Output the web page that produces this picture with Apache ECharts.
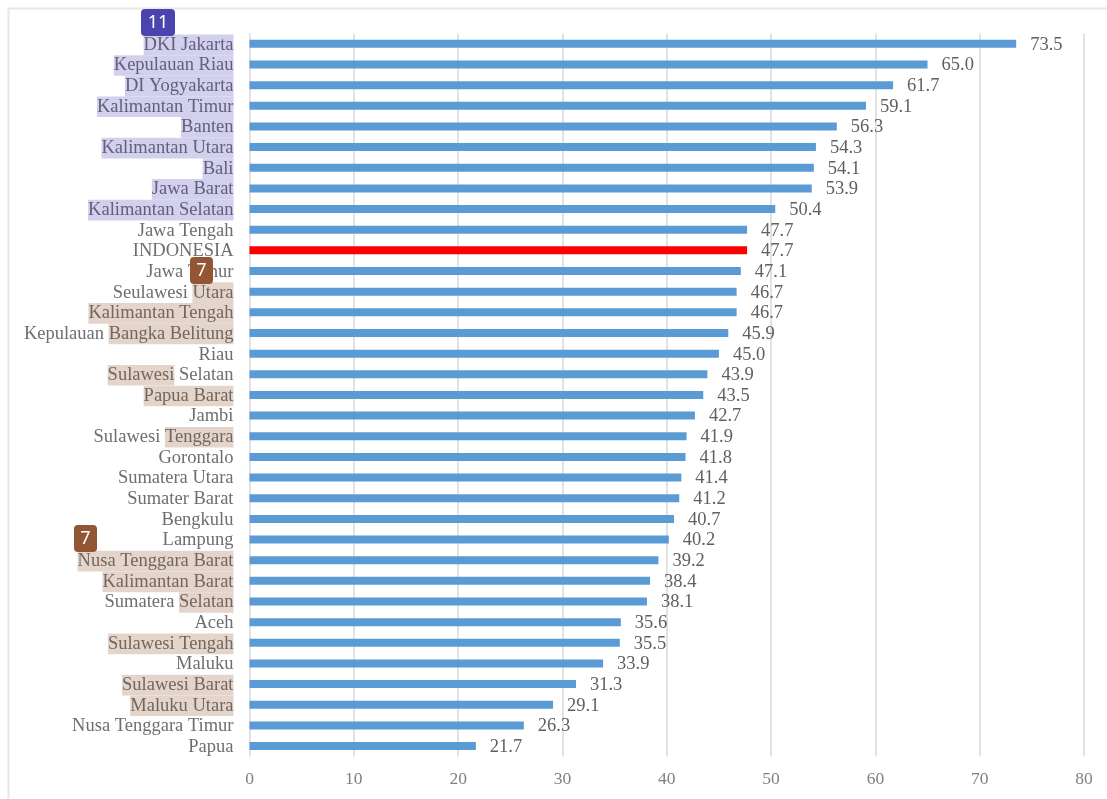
<!DOCTYPE html>
<html><head><meta charset="utf-8">
<style>html,body{margin:0;padding:0;background:#fff}#c{width:1107px;height:799px;filter:blur(0.4px)}</style>
<script src="https://cdn.jsdelivr.net/npm/echarts@6/dist/echarts.min.js"></script>
</head><body><div id="c"></div>
<script>
const categories = ["DKI Jakarta","Kepulauan Riau","DI Yogyakarta","Kalimantan Timur","Banten","Kalimantan Utara","Bali","Jawa Barat","Kalimantan Selatan","Jawa Tengah","INDONESIA","Jawa Timur","Seulawesi Utara","Kalimantan Tengah","Kepulauan Bangka Belitung","Riau","Sulawesi Selatan","Papua Barat","Jambi","Sulawesi Tenggara","Gorontalo","Sumatera Utara","Sumater Barat","Bengkulu","Lampung","Nusa Tenggara Barat","Kalimantan Barat","Sumatera Selatan","Aceh","Sulawesi Tengah","Maluku","Sulawesi Barat","Maluku Utara","Nusa Tenggara Timur","Papua"];
const values = [73.5,65.0,61.7,59.1,56.3,54.3,54.1,53.9,50.4,47.7,47.7,47.1,46.7,46.7,45.9,45.0,43.9,43.5,42.7,41.9,41.8,41.4,41.2,40.7,40.2,39.2,38.4,38.1,35.6,35.5,33.9,31.3,29.1,26.3,21.7];
const blueMarked = ["DKI Jakarta","Kepulauan Riau","DI Yogyakarta","Kalimantan Timur","Banten","Kalimantan Utara","Bali","Jawa Barat","Kalimantan Selatan"];
const brownMarked = {"Seulawesi Utara":"Utara","Kalimantan Tengah":"Kalimantan Tengah","Kepulauan Bangka Belitung":"Bangka Belitung","Sulawesi Selatan":"Sulawesi","Papua Barat":"Papua Barat","Sulawesi Tenggara":"Tenggara","Nusa Tenggara Barat":"Nusa Tenggara Barat","Kalimantan Barat":"Kalimantan Barat","Sumatera Selatan":"Selatan","Sulawesi Tengah":"Sulawesi Tengah","Sulawesi Barat":"Sulawesi Barat","Maluku Utara":"Maluku Utara"};
const xTicks = {min:0,max:80,interval:10};
const highlightCategory = "INDONESIA";

const FONT = '"Liberation Serif","Times New Roman",serif';
const LABEL = 18.5, ROW = 20.65;
function span(style, s){ return s ? '{'+style+'|'+s+'}' : ''; }
function catLabel(name){
  if (blueMarked.includes(name)) return span('b', name);
  const part = brownMarked[name];
  if (part){
    const i = name.indexOf(part);
    return span('p', name.slice(0,i)) + span('t', part) + span('p', name.slice(i+part.length));
  }
  return span('p', name);
}
const base = {fontFamily:FONT,fontSize:LABEL,height:ROW,lineHeight:ROW,verticalAlign:'middle'};
const badge = (x,y,w,h,fill,txt)=>({type:'group',x,y,z:100,children:[
  {type:'rect',shape:{x:0,y:0,width:w,height:h,r:4},style:{fill},z:100},
  {type:'text',style:{x:w/2,y:h/2+0.5,text:txt,fill:'#fff',font:'18px "Noto Sans","Open Sans",sans-serif',align:'center',verticalAlign:'middle'},z:101}
]});
const chart = echarts.init(document.getElementById('c'),null,{renderer:'canvas'});
chart.setOption({
  animation:false,
  backgroundColor:'#fff',
  grid:{left:249.5,right:23,top:33.5,bottom:42.6,containLabel:false},
  xAxis:{type:'value',min:xTicks.min,max:xTicks.max,interval:xTicks.interval,
    axisLine:{show:false},axisTick:{show:false},
    splitLine:{show:true,lineStyle:{color:'#e2e2e2',width:2}},
    axisLabel:{color:'#808080',fontFamily:FONT,fontSize:17.5,margin:14}},
  yAxis:{type:'category',inverse:true,data:categories,
    axisLine:{show:false},axisTick:{show:false},
    axisLabel:{interval:0,margin:16,align:'right',formatter:catLabel,padding:[2,0,0,0],
      rich:{
        p:{...base,color:'#6e6e6e'},
        b:{...base,color:'#625f7c',backgroundColor:'#d2d0ec'},
        t:{...base,color:'#74665c',backgroundColor:'#e3d5cc'}
      }}},
  series:[{type:'bar',barWidth:8,
    data:categories.map((c,i)=>({value:values[i],itemStyle:{color:c===highlightCategory?'#ff0000':'#5b9bd5'}})),
    label:{show:true,position:'right',distance:14,offset:[0,1],color:'#606060',fontFamily:FONT,fontSize:18.5,
      formatter:p=>p.value.toFixed(1)}}],
  graphic:[
    {type:'line',shape:{x1:8,y1:8.5,x2:1107,y2:8.5},style:{stroke:'#e8e8e8',lineWidth:2},z:1},
    {type:'line',shape:{x1:8.5,y1:8,x2:8.5,y2:799},style:{stroke:'#e8e8e8',lineWidth:2},z:1},
    badge(141,9,34,27,'#4a45ae','11'),
    badge(190,257,23,27,'#935634','7'),
    badge(74,525,23,27,'#935634','7')
  ]
});
</script></body></html>
